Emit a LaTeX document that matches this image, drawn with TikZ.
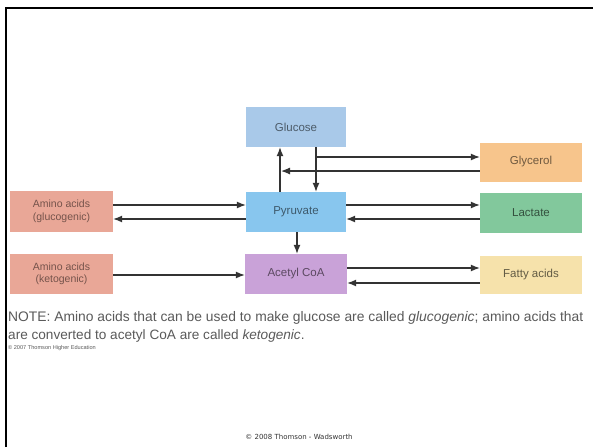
\documentclass[tikz,border=0pt]{standalone}
\usepackage{fontspec}
\setmainfont{Liberation Sans}
\newfontfamily\footfont{DejaVu Sans}
\usetikzlibrary{arrows.meta}
\definecolor{cGlu}{HTML}{A9C9E9}
\definecolor{cPyr}{HTML}{88C6EE}
\definecolor{cAce}{HTML}{C9A2D8}
\definecolor{cAmi}{HTML}{E9A797}
\definecolor{cGly}{HTML}{F7C58C}
\definecolor{cLac}{HTML}{82C89C}
\definecolor{cFat}{HTML}{F6E2AB}
\definecolor{cTxt}{HTML}{5A5A5A}
\definecolor{cLine}{HTML}{333333}
\tikzset{
  box/.style={draw=none, minimum width=102pt, minimum height=40pt, inner sep=1pt,
    align=center, font=\fontsize{11.5}{13}\selectfont},
  arr/.style={draw=cLine, line width=1.2pt, -{Latex[length=9pt,width=7pt]}},
  note/.style={anchor=west, inner sep=0pt, text=cTxt, font=\fontsize{13.6}{15}\selectfont},
}
\begin{document}
\begin{tikzpicture}[x=1pt,y=-1pt]
\useasboundingbox (0,0) rectangle (593,447);
\fill[white] (0,0) rectangle (593,447);
% frame lines
\draw[line width=2.5pt, black] (6,447) -- (6,8) -- (593,8);
% boxes
\node[box, fill=cGlu, text=cGlu!45!black, minimum width=100pt] (glu) at (296,127) {Glucose};
\node[box, fill=cPyr, text=cPyr!45!black, minimum width=100pt] (pyr) at (296,212) {Pyruvate};
\node[box, fill=cAce, text=cAce!45!black] (ace) at (296,274) {Acetyl CoA};
\node[box, fill=cAmi, text=cAmi!50!black, minimum width=103pt, minimum height=41pt, font=\fontsize{10.5}{12.5}\selectfont] (amg) at (61.5,211.5) {Amino acids\\(glucogenic)};
\node[box, fill=cAmi, text=cAmi!50!black, minimum width=103pt, font=\fontsize{10.5}{12.5}\selectfont] (amk) at (61.5,274) {Amino acids\\(ketogenic)};
\node[box, fill=cGly, text=cGly!45!black, minimum height=39pt] (gly) at (531,162) {Glycerol};
\node[box, fill=cLac, text=cLac!40!black] (lac) at (531,213) {Lactate};
\node[box, fill=cFat, text=cFat!40!black, minimum height=38pt] (fat) at (531,275) {Fatty acids};
% helper coordinates
\coordinate (xup) at (280,0);
\coordinate (xdn) at (316,0);
\coordinate (xac) at (297,0);
\coordinate (g1) at (316,157);
\coordinate (g2) at (281,171);
\coordinate (ya) at (0,205);
\coordinate (yb) at (0,219);
\coordinate (yk) at (0,275);
\coordinate (yf1) at (0,268);
\coordinate (yf2) at (0,283);
% arrows
\draw[arr] (pyr.north -| xup) -- (glu.south -| xup);
\draw[arr] (glu.south -| xdn) -- (pyr.north -| xdn);
\draw[arr] (g1) -- (g1 -| gly.west);
\draw[arr] (g2 -| gly.west) -- (g2);
\draw[arr] (pyr.east |- ya) -- (lac.west |- ya);
\draw[arr] (lac.west |- yb) -- (pyr.east |- yb);
\draw[arr] (amg.east |- ya) -- (pyr.west |- ya);
\draw[arr] (pyr.west |- yb) -- (amg.east |- yb);
\draw[arr] (pyr.south -| xac) -- (ace.north -| xac);
\draw[arr] (amk.east |- yk) -- (ace.west |- yk);
\draw[arr] (ace.east |- yf1) -- (fat.west |- yf1);
\draw[arr] (fat.west |- yf2) -- (ace.east |- yf2);
% note
\node[note] (n1) at (8,318)
  {\resizebox{575pt}{!}{NOTE: Amino acids that can be used to make glucose are called \textit{glucogenic}; amino acids that}};
\node[note] (n2) at (8,336)
  {are converted to acetyl CoA are called \textit{ketogenic}.};
\node[anchor=west, inner sep=0pt, text=cTxt, font=\fontsize{5.6}{6}\selectfont] (n3) at (8,348)
  {\copyright\ 2007 Thomson Higher Education};
\node[inner sep=0pt, text=black!80, font=\footfont\fontsize{7}{8}\selectfont] (foot) at (299,437)
  {\textcopyright\ 2008 Thomson - Wadsworth};
\end{tikzpicture}
\end{document}
